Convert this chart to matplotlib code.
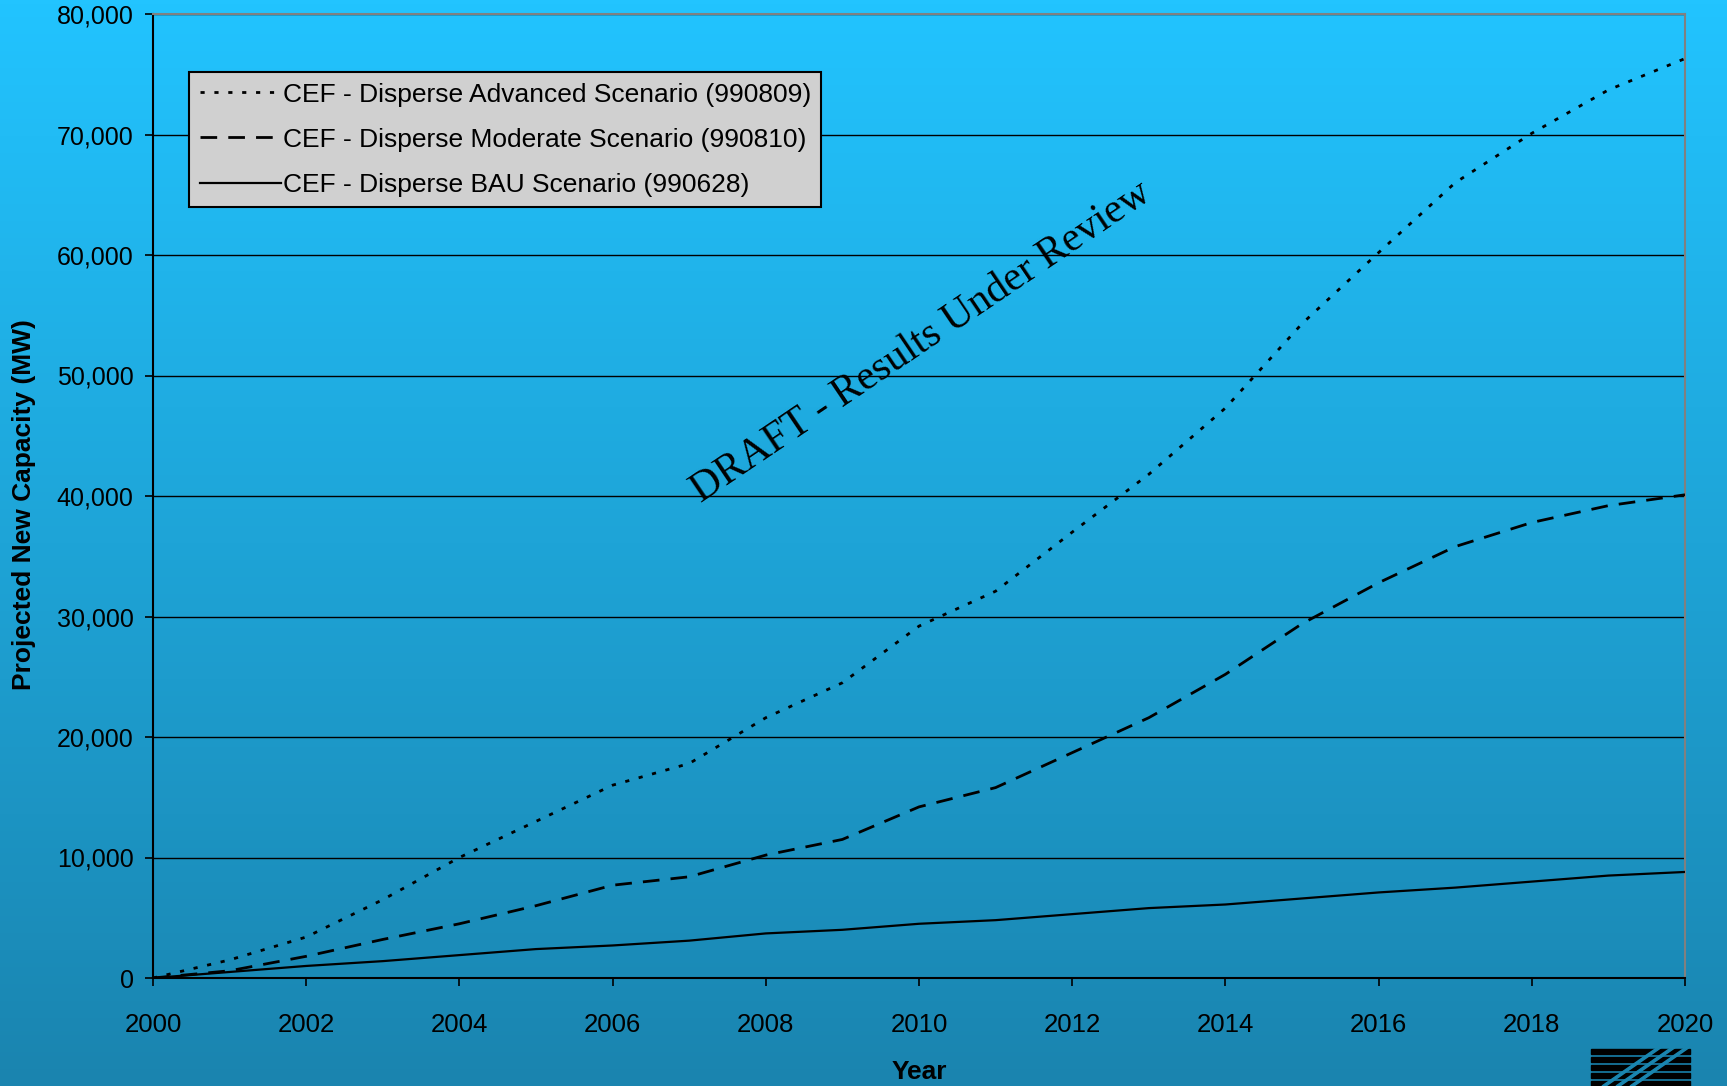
import numpy as np
import matplotlib
matplotlib.use("Agg")
import matplotlib.pyplot as plt
from matplotlib.patches import Rectangle, Polygon

years = list(range(2000, 2021))
advanced = [0, 1500, 3400, 6500, 10000, 13000, 16000, 17800, 21600, 24500, 29200,
            32100, 37000, 41800, 47300, 54300, 60200, 66000, 70100, 73700, 76300]
moderate = [0, 600, 1800, 3200, 4500, 6000, 7700, 8400, 10200, 11500, 14200,
            15800, 18700, 21600, 25200, 29400, 32800, 35800, 37800, 39200, 40100]
bau = [0, 500, 1000, 1400, 1900, 2400, 2700, 3100, 3700, 4000, 4500,
       4800, 5300, 5800, 6100, 6600, 7100, 7500, 8000, 8500, 8800]
labels = ["CEF - Disperse Advanced Scenario (990809)",
          "CEF - Disperse Moderate Scenario (990810)",
          "CEF - Disperse BAU Scenario (990628)"]
yticks = list(range(0, 80001, 10000))
xticks = list(range(2000, 2021, 2))

W, H = 1727, 1086
fig = plt.figure(figsize=(W / 100, H / 100), dpi=100)

# gradient background
bg = fig.add_axes([0, 0, 1, 1], zorder=-10)
top = np.array([34, 196, 255]) / 255
bot = np.array([26, 132, 175]) / 255
t = np.linspace(0, 1, 256)[:, None]
grad = top[None, :] * (1 - t) + bot[None, :] * t
bg.imshow(grad[:, None, :], aspect="auto", extent=[0, 1, 0, 1])
bg.axis("off")

l, r, tp, b = 153, 1685, 14, 978
ax = fig.add_axes([l / W, 1 - b / H, (r - l) / W, (b - tp) / H])
ax.set_facecolor("none")

ax.plot(years, bau, color="black", lw=1.6, ls="-", label=labels[2], zorder=3)
ax.plot(years, moderate, color="black", lw=2.0, ls=(0, (6, 4)), label=labels[1], zorder=3)
ax.plot(years, advanced, color="black", lw=2.0, ls=(0, (1.5, 3.5)), label=labels[0], zorder=3)

ax.set_xlim(2000, 2020)
ax.set_ylim(0, 80000)
ax.set_yticks(yticks)
ax.set_xticks(xticks)
ax.set_yticklabels([f"{v:,}" for v in yticks])
ax.yaxis.grid(True, color="black", lw=1.0)
ax.set_axisbelow(True)

fnt = "Liberation Sans"
ax.tick_params(axis="y", direction="out", length=6, width=1.2, pad=8,
               labelsize=18, labelfontfamily=fnt)
ax.tick_params(axis="x", direction="out", length=6, width=1.2, pad=19,
               labelsize=18.5, labelfontfamily=fnt)
for s in ["left", "bottom"]:
    ax.spines[s].set_color("black")
    ax.spines[s].set_linewidth(1.5)
for s in ["top", "right"]:
    ax.spines[s].set_color("#808080")
    ax.spines[s].set_linewidth(1.5)

fig.text(24 / W, 1 - 505 / H, "Projected New Capacity (MW)", rotation=90,
         ha="center", va="center", fontsize=19, fontweight="bold", family=fnt)
fig.text(919 / W, 1 - 1072 / H, "Year", ha="center", va="center",
         fontsize=19, fontweight="bold", family=fnt)

h, lb = ax.get_legend_handles_labels()
order = [2, 1, 0]
leg = ax.legend([h[i] for i in order], [lb[i] for i in order],
                loc="upper left", bbox_to_anchor=((189 - l) / (r - l), 1 - (72 - tp) / (b - tp)),
                prop={"family": fnt, "size": 19}, frameon=True, fancybox=False,
                facecolor="#D0D0D0", edgecolor="black", framealpha=1,
                handlelength=3.1, handletextpad=0.05, labelspacing=0.8,
                borderpad=0.4, borderaxespad=0)
leg.get_frame().set_linewidth(1.5)

fig.text(921 / W, 1 - 342 / H, "DRAFT - Results Under Review", rotation=34,
         ha="center", va="center", fontsize=30, family="Liberation Serif",
         rotation_mode="anchor")

# logo at bottom right
lx0, lx1 = 1591, 1690
for i in range(5):
    y0 = 1049 + i * 8
    fig.patches.append(Rectangle((lx0 / W, 1 - (y0 + 5) / H), (lx1 - lx0) / W, 5 / H,
                                 transform=fig.transFigure, color="black", zorder=5))
for off in [0, 14, 28]:
    fig.patches.append(Polygon([((lx1 - off) / W, 1 - 1047 / H),
                                ((lx1 - off - 4) / W, 1 - 1047 / H),
                                ((lx1 - off - 60) / W, 0),
                                ((lx1 - off - 56) / W, 0)],
                               closed=True, transform=fig.transFigure,
                               color="#1A86B0", zorder=6))

fig.savefig("out.png", dpi=100)
